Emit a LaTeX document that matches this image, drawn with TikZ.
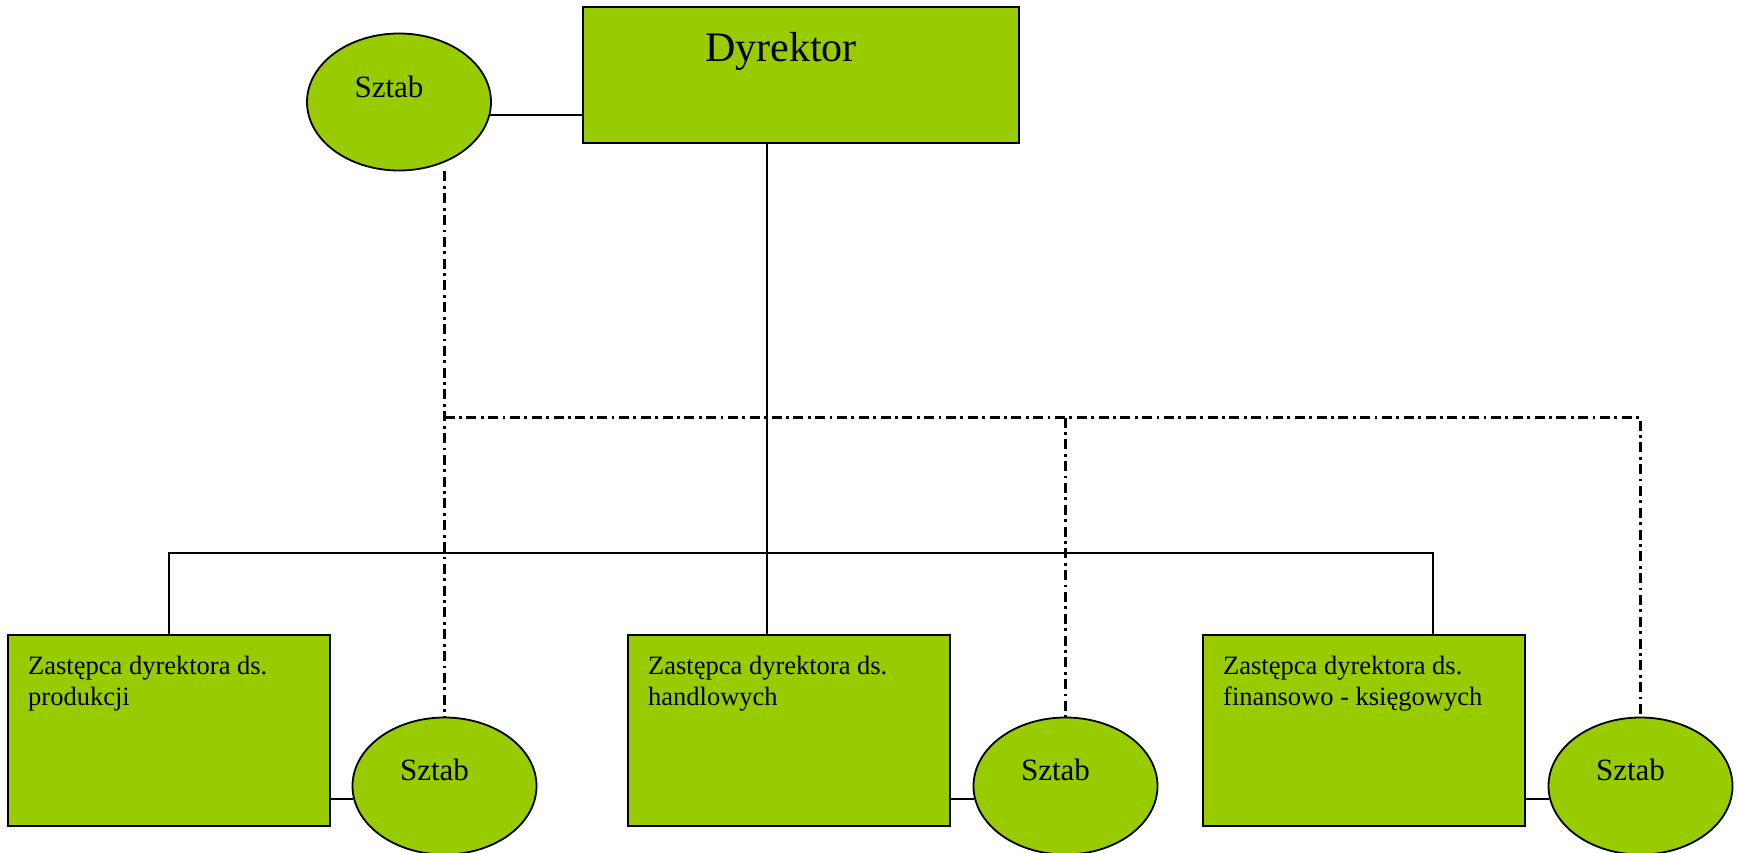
\documentclass[tikz,border=0pt]{standalone}
\usepackage{fontspec}
\setmainfont{Liberation Serif}
\usetikzlibrary{shapes.geometric}
\definecolor{boxgreen}{HTML}{99CC00}
\tikzset{
  unit/.style={draw=black, line width=1.8pt, fill=boxgreen, minimum width=322pt, minimum height=191pt, inner sep=0pt},
  chief/.style={draw=black, line width=1.8pt, fill=boxgreen, minimum width=436pt, minimum height=136pt, inner sep=0pt},
  staff/.style={ellipse, draw=black, line width=1.8pt, fill=boxgreen, minimum width=184pt, minimum height=137pt, inner sep=0pt},
  stafftext/.style={anchor=base, inner sep=0pt, font=\fontsize{31}{36}\selectfont},
  unittext/.style={anchor=north west, inner sep=0pt, align=left, font=\fontsize{26.5}{31}\selectfont},
  solidline/.style={line width=1.8pt},
  staffline/.style={line width=2.6pt, dash pattern=on 10pt off 4.5pt on 2.8pt off 4.5pt}
}
\begin{document}
\begin{tikzpicture}[x=1pt, y=-1pt]
  \useasboundingbox (0,0) rectangle (1738,852);
  \clip (0,0) rectangle (1738,852);

  % director and his staff
  \node[chief] (dir) at (801,75) {};
  \node[anchor=base, inner sep=0pt, font=\fontsize{42}{48}\selectfont] (dirt) at (781,61) {Dyrektor};
  \node[staff] (e0) at (399,102) {};
  \node[stafftext] (e0t) at (389,97) {Sztab};

  % deputies
  \node[unit] (b1) at (169,730.5) {};
  \node[unit] (b2) at (789,730.5) {};
  \node[unit] (b3) at (1364,730.5) {};
  \node[unittext] (b1t) at (28,656) {Zastępca dyrektora ds.\\produkcji};
  \node[unittext] (b2t) at (648,656) {Zastępca dyrektora ds.\\handlowych};
  \node[unittext] (b3t) at (1223,656) {Zastępca dyrektora ds.\\finansowo - księgowych};

  % staff of the deputies
  \node[staff] (e1) at (444.5,786) {};
  \node[staff] (e2) at (1065.5,786) {};
  \node[staff] (e3) at (1640.5,786) {};
  \node[stafftext] (e1t) at (434.5,780) {Sztab};
  \node[stafftext] (e2t) at (1055.5,780) {Sztab};
  \node[stafftext] (e3t) at (1630.5,780) {Sztab};

  % line authority
  \coordinate (dl) at (767,143);
  \coordinate (bar) at (1433,553);
  \draw[solidline] (dl |- dir.south) -- (dl |- b2.north);
  \draw[solidline] (b1.north) |- (bar) -- (bar |- b3.north);

  % staff attachments
  \draw[solidline] (e0.352) -- (e0.352 -| dir.west);
  \draw[solidline] (e1.188) -- (e1.188 -| b1.east);
  \draw[solidline] (e2.188) -- (e2.188 -| b2.east);
  \draw[solidline] (e3.188) -- (e3.188 -| b3.east);

  % functional (staff) links
  \coordinate (sl) at (0,417.5);
  \draw[staffline] (e1.north |- e0.south) -- (e1.north);
  \draw[staffline] (e1.north |- sl) -- (e3.north |- sl) -- (e3.north);
  \draw[staffline] (e2.north |- sl) -- (e2.north);
\end{tikzpicture}
\end{document}
